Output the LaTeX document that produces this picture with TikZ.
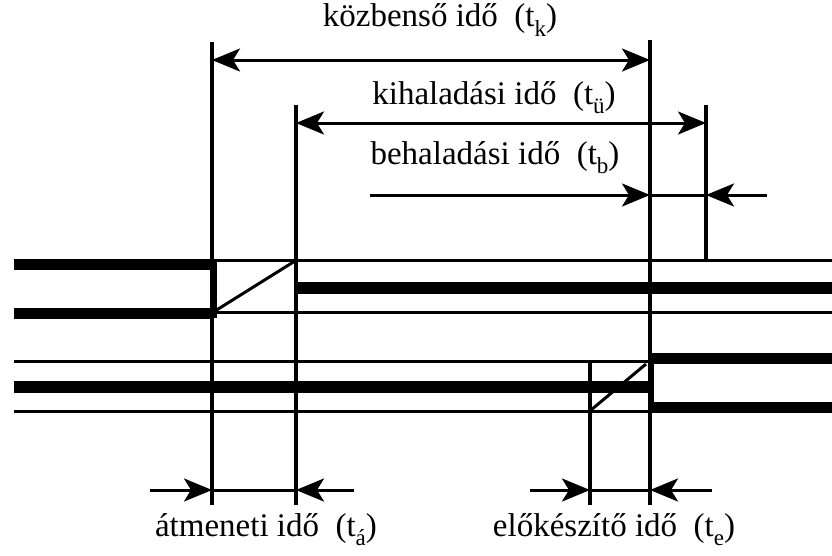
\documentclass[tikz,border=0pt]{standalone}
\usepackage{fontspec}
\setmainfont{Liberation Serif}
\usetikzlibrary{arrows.meta}
\newcommand{\subtx}[1]{\raisebox{-0.6ex}{\fontsize{23pt}{23pt}\selectfont #1}}
\begin{document}
\begin{tikzpicture}[x=1pt,y=-1pt,
  thinline/.style={line width=3pt},
  thickline/.style={line width=11pt},
  vline/.style={line width=3.4pt},
  dimline/.style={line width=3pt},
  ah/.tip={Stealth[length=28pt,width=23pt,inset=7pt]},
  tip/.style={-ah},
  lbl/.style={font=\fontsize{33pt}{35pt}\selectfont, inner sep=0pt}]
\useasboundingbox (0,0) rectangle (832,555);
% vertical line ends
\coordinate (At) at (212,42);  \coordinate (Ab) at (212,505);
\coordinate (Bt) at (296,105); \coordinate (Bb) at (296,505);
\coordinate (Ct) at (650,40);  \coordinate (Cb) at (650,505);
\coordinate (Dt) at (706,105); \coordinate (Db) at (706,260);
\coordinate (Et) at (590,362); \coordinate (Eb) at (590,505);
\draw[vline] (At) -- (Ab);
\draw[vline] (Bt) -- (Bb);
\draw[vline] (Ct) -- (Cb);
\draw[vline] (Dt) -- (Db);
\draw[vline] (Et) -- (Eb);
% track 1
\coordinate (t1a) at (14,264); \coordinate (t1b) at (214,264);
\draw[thickline] (t1a) -- (t1b);
\coordinate (t1c) at (14,313); \coordinate (t1d) at (214,313);
\draw[thickline] (t1c) -- (t1d);
\coordinate (t1e) at (213,260); \coordinate (t1f) at (213,318);
\draw[line width=7pt] (t1e) -- (t1f);
\coordinate (t1g) at (212,260); \coordinate (t1h) at (832,260);
\draw[thinline] (t1g) -- (t1h);
\coordinate (t1i) at (212,312); \coordinate (t1j) at (832,312);
\draw[thinline] (t1i) -- (t1j);
\coordinate (t1k) at (296,288); \coordinate (t1l) at (832,288);
\draw[line width=12pt] (t1k) -- (t1l);
\coordinate (d1a) at (215,311); \coordinate (d1b) at (295,261);
\draw[thinline] (d1a) -- (d1b);
% track 2
\coordinate (t2a) at (14,361); \coordinate (t2b) at (650,361);
\draw[thinline] (t2a) -- (t2b);
\coordinate (t2c) at (14,387); \coordinate (t2d) at (650,387);
\draw[line width=12pt] (t2c) -- (t2d);
\coordinate (t2e) at (14,411); \coordinate (t2f) at (650,411);
\draw[thinline] (t2e) -- (t2f);
\coordinate (t2g) at (648,358); \coordinate (t2h) at (832,358);
\draw[thickline] (t2g) -- (t2h);
\coordinate (t2i) at (648,407); \coordinate (t2j) at (832,407);
\draw[thickline] (t2i) -- (t2j);
\coordinate (t2k) at (651,353); \coordinate (t2l) at (651,412);
\draw[line width=6pt] (t2k) -- (t2l);
\coordinate (d2a) at (591,410); \coordinate (d2b) at (646,364);
\draw[thinline] (d2a) -- (d2b);
% dimension arrows
\coordinate (k1) at (212,60); \coordinate (k2) at (650,60);
\draw[dimline,ah-ah] (k1) -- (k2);
\coordinate (u1) at (296,123); \coordinate (u2) at (706,123);
\draw[dimline,ah-ah] (u1) -- (u2);
\coordinate (b0) at (370,195); \coordinate (b1) at (650,195);
\coordinate (b2) at (706,195); \coordinate (b3) at (767,195);
\draw[dimline,tip] (b0) -- (b1);
\draw[dimline] (b1) -- (b2);
\draw[dimline,tip] (b3) -- (b2);
\coordinate (a0) at (150,490); \coordinate (a1) at (212,490);
\coordinate (a2) at (296,490); \coordinate (a3) at (354,490);
\draw[dimline,tip] (a0) -- (a1);
\draw[dimline] (a1) -- (a2);
\draw[dimline,tip] (a3) -- (a2);
\coordinate (e0) at (530,490); \coordinate (e1) at (590,490);
\coordinate (e2) at (650,490); \coordinate (e3) at (712,490);
\draw[dimline,tip] (e0) -- (e1);
\draw[dimline] (e1) -- (e2);
\draw[dimline,tip] (e3) -- (e2);
% labels
\node[lbl] (lk) at (440,20) {közbenső idő~~(t\subtx{k})};
\node[lbl] (lu) at (494,98) {kihaladási idő~~(t\subtx{ü})};
\node[lbl] (lb) at (495,158) {behaladási idő~~(t\subtx{b})};
\node[lbl] (la) at (266,530) {átmeneti idő~~(t\subtx{á})};
\node[lbl] (le) at (614,530) {előkészítő idő~~(t\subtx{e})};
\end{tikzpicture}
\end{document}
